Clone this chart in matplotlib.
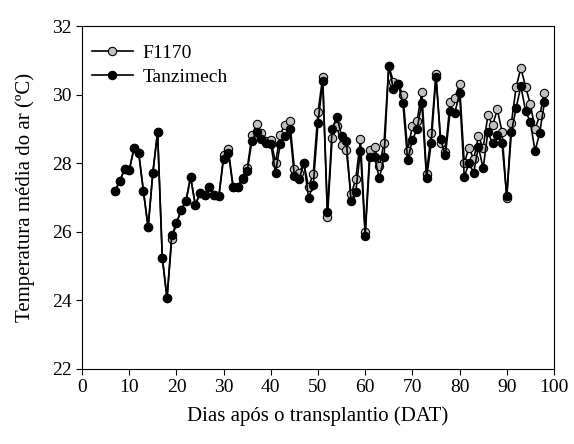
import matplotlib
matplotlib.use("Agg")
import matplotlib.pyplot as plt

plt.rcParams['font.family'] = ['Liberation Serif', 'DejaVu Serif']

days = list(range(7, 99))

tanzimech = [27.19, 27.49, 27.82, 27.80, 28.44, 28.30, 27.19, 26.13, 27.73, 28.90,
             25.25, 24.06, 25.90, 26.25, 26.64, 26.89, 27.60, 26.78, 27.14, 27.07,
             27.30, 27.07, 27.05, 28.14, 28.30, 27.32, 27.32, 27.53, 27.77, 28.66,
             28.92, 28.70, 28.58, 28.56, 27.73, 28.56, 28.80, 29.00, 27.63, 27.53,
             28.00, 27.00, 27.36, 29.17, 30.40, 26.57, 29.00, 29.36, 28.81, 28.66,
             26.90, 27.17, 28.36, 25.89, 28.17, 28.17, 27.56, 28.17, 30.84, 30.16,
             30.31, 29.75, 28.09, 28.68, 29.00, 29.75, 27.56, 28.58, 30.52, 28.70,
             28.23, 29.52, 29.48, 30.04, 27.61, 28.00, 27.73, 28.48, 27.85, 28.91,
             28.58, 28.84, 28.58, 27.05, 28.92, 29.62, 30.25, 29.52, 29.21, 28.36,
             28.89, 29.79]

f1170 = [27.19, 27.49, 27.82, 27.80, 28.44, 28.30, 27.19, 26.13, 27.73, 28.92,
         25.25, 24.06, 25.78, 26.25, 26.64, 26.89, 27.60, 26.78, 27.14, 27.07,
         27.30, 27.07, 27.05, 28.24, 28.41, 27.32, 27.32, 27.56, 27.85, 28.82,
         29.14, 28.89, 28.66, 28.68, 28.02, 28.84, 29.13, 29.24, 27.83, 27.73,
         28.00, 27.31, 27.70, 29.49, 30.52, 26.44, 28.73, 29.08, 28.53, 28.38,
         27.09, 27.53, 28.70, 26.00, 28.40, 28.48, 27.92, 28.60, 30.84, 30.37,
         30.31, 29.99, 28.36, 29.08, 29.24, 30.08, 27.70, 28.87, 30.60, 28.60,
         28.33, 29.79, 29.91, 30.31, 28.00, 28.46, 28.12, 28.79, 28.45, 29.40,
         29.11, 29.57, 28.92, 26.98, 29.19, 30.23, 30.78, 30.23, 29.73, 29.00,
         29.40, 30.06]

fig = plt.figure(figsize=(5.74, 4.44), dpi=100)
ax = fig.add_axes([0.143, 0.169, 0.822, 0.772])

ax.plot(days, f1170, '-o', color='black', lw=1.2, markersize=6,
        markerfacecolor='#c0c0c0', markeredgecolor='black', markeredgewidth=0.8,
        label='F1170')
ax.plot(days, tanzimech, '-o', color='black', lw=1.2, markersize=6,
        markerfacecolor='black', markeredgecolor='black', markeredgewidth=0.8,
        label='Tanzimech')

ax.set_xlim(0, 100)
ax.set_ylim(22, 32)
ax.set_xticks(range(0, 101, 10))
ax.set_yticks(range(22, 33, 2))
ax.tick_params(direction='out', length=4, width=0.8, labelsize=14,
               top=False, right=False)
for s in ax.spines.values():
    s.set_linewidth(0.8)

ax.set_xlabel('Dias após o transplantio (DAT)', fontsize=15, labelpad=7)
ax.set_ylabel('Temperatura média do ar (ºC)', fontsize=15, labelpad=12)

ax.legend(loc='upper left', bbox_to_anchor=(0.0, 0.975), frameon=False,
          fontsize=14, handlelength=2.1, borderaxespad=0.1, labelspacing=0.3,
          handletextpad=0.5)

fig.savefig('out.png', dpi=100)
